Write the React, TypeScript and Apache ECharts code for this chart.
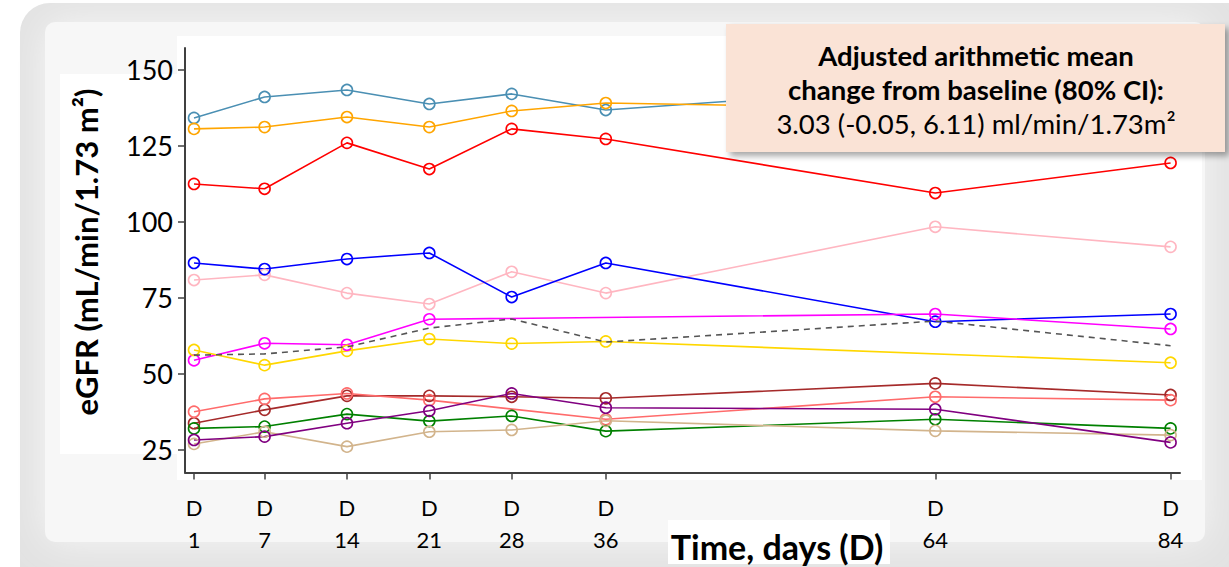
import React, { useEffect, useRef } from "react";
import * as echarts from "echarts";

const days = [1, 7, 14, 21, 28, 36, 64, 84];
const yTicks = [25, 50, 75, 100, 125, 150];

const steelBlue = [134.2, 141.1, 143.4, 138.8, 142.1, 136.8, 144.5, 143.0];
const orange = [130.6, 131.2, 134.5, 131.2, 136.5, 139.1, 137.2, 137.0];
const red = [112.5, 110.9, 126.0, 117.4, 130.6, 127.3, 109.5, 119.4];
const pink = [80.9, 82.6, 76.6, 73.0, 83.6, 76.6, 98.4, 91.8];
const blue = [86.5, 84.5, 87.8, 89.8, 75.3, 86.5, 67.2, 69.7];
const magenta = [54.5, 60.1, 59.6, 68.0, null, null, 69.7, 64.8];
const gold = [57.9, 52.9, 57.6, 61.5, 60.0, 60.7, null, 53.7];
const brown = [33.8, 38.2, 42.8, 42.8, 42.5, 42.0, 46.9, 43.1];
const salmon = [37.6, 41.8, 43.6, 41.4, null, 35.1, 42.5, 41.4];
const purple = [28.3, 29.4, 33.8, 37.9, 43.6, 38.9, 38.4, 27.5];
const green = [32.1, 32.7, 36.8, 34.5, 36.2, 31.2, 35.1, 32.1];
const tan = [27.0, 31.0, 26.1, 31.0, 31.6, 34.6, 31.3, 29.9];
const meanLine = [56.2, 56.6, 58.9, 65.1, 68.1, 60.5, 67.4, 59.3];

const subjects: { name: string; color: string; values: (number | null)[] }[] = [
  { name: "S1", color: "#4a8fb3", values: steelBlue },
  { name: "S2", color: "#ffa500", values: orange },
  { name: "S3", color: "#ff0000", values: red },
  { name: "S4", color: "#ffb6c1", values: pink },
  { name: "S5", color: "#0000ff", values: blue },
  { name: "S6", color: "#ff00ff", values: magenta },
  { name: "S7", color: "#ffd700", values: gold },
  { name: "S8", color: "#a52a2a", values: brown },
  { name: "S9", color: "#ff6b6b", values: salmon },
  { name: "S10", color: "#008000", values: green },
  { name: "S11", color: "#d2b48c", values: tan },
  { name: "S12", color: "#800080", values: purple },
];

const FONT = "Lato";

export default function App() {
  const ref = useRef<HTMLDivElement>(null);
  useEffect(() => {
    if (!ref.current) return;
    const chart = echarts.init(ref.current, null, { renderer: "svg" });
    const series: any[] = subjects.map((s) => ({
      name: s.name,
      type: "line",
      data: days.map((d, i) => [d, s.values[i]]),
      connectNulls: true,
      symbol: "circle",
      symbolSize: 11,
      lineStyle: { color: s.color, width: 1.6 },
      itemStyle: { color: "rgba(255,255,255,0)", borderColor: s.color, borderWidth: 1.6 },
      z: 3,
    }));
    series.push({
      name: "Mean",
      type: "line",
      data: days.map((d, i) => [d, meanLine[i]]),
      symbol: "none",
      lineStyle: { color: "#555555", width: 1.6, type: [6, 5] },
      z: 4,
    });
    chart.setOption({
      animation: false,
      backgroundColor: "#ffffff",
      grid: { left: 185, top: 48, width: 995, height: 424.5 },
      xAxis: {
        type: "value",
        min: 0.235,
        max: 84.8,
        axisLine: { lineStyle: { color: "#404040", width: 2 } },
        axisTick: { customValues: days, length: 7, lineStyle: { color: "#404040", width: 1.5 } },
        axisLabel: {
          customValues: days,
          formatter: (v: number) => "D\n" + v,
          fontFamily: FONT,
          fontSize: 22,
          lineHeight: 32,
          margin: 19,
          color: "#000",
        },
        splitLine: { show: false },
      },
      yAxis: {
        type: "value",
        min: 17.6,
        max: 157.2,
        axisLine: { show: true, lineStyle: { color: "#404040", width: 2 } },
        axisTick: { show: true, customValues: yTicks, length: 7, lineStyle: { color: "#404040", width: 1.5 } },
        axisLabel: {
          customValues: yTicks,
          fontFamily: FONT,
          fontSize: 27,
          margin: 12,
          color: "#000",
        },
        splitLine: { show: false },
      },
      graphic: [
        {
          type: "rect",
          z: -10,
          shape: { x: 20, y: 3, width: 1240, height: 600, r: 30 },
          style: { fill: "#e2e2e2" },
        },
        {
          type: "rect",
          z: -9,
          shape: { x: 45, y: 22, width: 1160, height: 520, r: 10 },
          style: { fill: "#f7f7f7", shadowBlur: 40, shadowColor: "#f7f7f7" },
        },
        {
          type: "rect",
          z: -8,
          shape: { x: 177, y: 36, width: 1025, height: 444 },
          style: { fill: "#ffffff" },
        },
        {
          type: "rect",
          z: -8,
          shape: { x: 60, y: 74, width: 120, height: 380 },
          style: { fill: "#ffffff" },
        },
        {
          type: "rect",
          z: -8,
          shape: { x: 668, y: 520, width: 222, height: 44 },
          style: { fill: "#ffffff" },
        },
        {
          type: "text",
          z: 10,
          x: 86,
          y: 252,
          rotation: Math.PI / 2,
          style: {
            text: "eGFR (mL/min/1.73 m²)",
            fontFamily: FONT,
            fontWeight: "bold",
            fontSize: 31,
            fill: "#000",
            align: "center",
            verticalAlign: "middle",
          },
        },
        {
          type: "text",
          z: 10,
          x: 777,
          y: 546,
          style: {
            text: "Time, days (D)",
            fontFamily: FONT,
            fontWeight: "bold",
            fontSize: 34,
            fill: "#000",
            align: "center",
            verticalAlign: "middle",
          },
        },
        {
          type: "rect",
          z: 100,
          shape: { x: 726, y: 24, width: 499, height: 128 },
          style: {
            fill: "#fae3d6",
            shadowBlur: 6,
            shadowOffsetX: 4,
            shadowOffsetY: 4,
            shadowColor: "rgba(0,0,0,0.35)",
          },
        },
        {
          type: "text",
          z: 101,
          x: 976,
          y: 55,
          style: {
            text: "Adjusted arithmetic mean",
            fontFamily: FONT,
            fontWeight: "bold",
            fontSize: 27.5,
            fill: "#000",
            align: "center",
            verticalAlign: "middle",
          },
        },
        {
          type: "text",
          z: 101,
          x: 976,
          y: 89,
          style: {
            text: "change from baseline (80% CI):",
            fontFamily: FONT,
            fontWeight: "bold",
            fontSize: 27.5,
            fill: "#000",
            align: "center",
            verticalAlign: "middle",
          },
        },
        {
          type: "text",
          z: 101,
          x: 976,
          y: 123,
          style: {
            text: "3.03 (-0.05, 6.11) ml/min/1.73m²",
            fontFamily: FONT,
            fontSize: 27.5,
            fill: "#000",
            align: "center",
            verticalAlign: "middle",
          },
        },
      ],
      series,
    });
    return () => chart.dispose();
  }, []);
  return (
    <div
      ref={ref}
      style={{ position: "fixed", left: 0, top: 0, width: 1229, height: 567 }}
    />
  );
}
